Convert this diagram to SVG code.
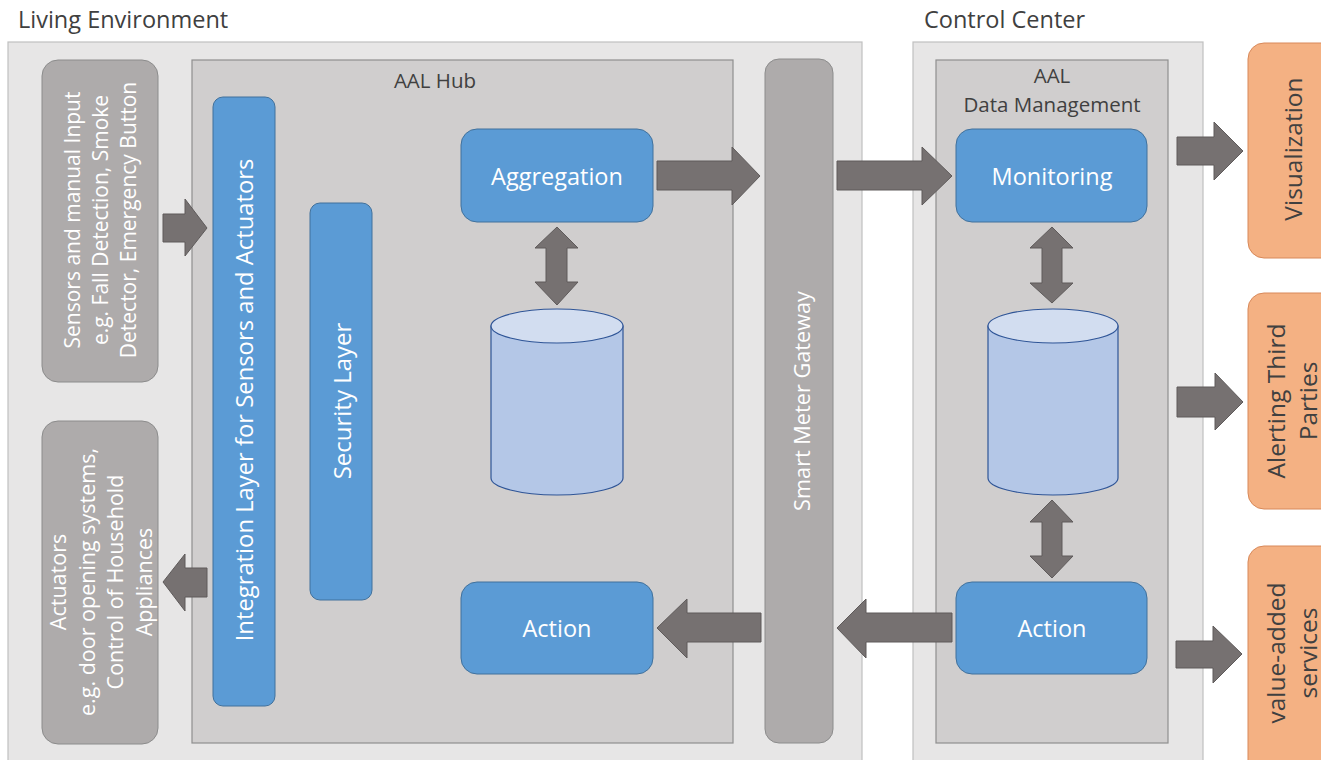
<svg xmlns="http://www.w3.org/2000/svg" width="1321" height="760" viewBox="0 0 1321 760">
<style>
text{font-family:"Open Sans","Noto Sans","Liberation Sans",sans-serif;}
.title{font-size:23.5px;fill:#404040;}
.panel{fill:#e7e6e6;stroke:#c0c0c0;stroke-width:1.2;}
.inner{fill:#d0cece;stroke:#8f8f8f;stroke-width:1.2;}
.gray{fill:#aeabab;stroke:#8c8c8c;stroke-width:1;}
.blue{fill:#5b9bd5;stroke:#41719c;stroke-width:1;}
.orange{fill:#f4b183;stroke:#d8895a;stroke-width:1;}
.cyl{fill:#b4c7e7;stroke:#2f5597;stroke-width:1.2;}
.cyltop{fill:#d2ddf0;stroke:#2f5597;stroke-width:1.2;}
.arrow{fill:#767171;stroke:#5f5b5b;stroke-width:1;}
.wt{fill:#ffffff;text-anchor:middle;dominant-baseline:central;}
.dt{fill:#404040;text-anchor:middle;dominant-baseline:central;}
</style>

<g id="living-environment">
<rect class="panel" x="8" y="42" width="854" height="730"/>
<text class="title" x="18" y="28">Living Environment</text>
</g>
<g id="control-center">
<rect class="panel" x="913" y="42" width="290" height="730"/>
<text class="title" x="924" y="28">Control Center</text>
</g>

<g id="aal-hub">
<rect class="inner" x="192" y="60" width="541" height="683"/>
<text class="dt" x="435" y="80" font-size="20.5">AAL Hub</text>
</g>
<g id="aal-data-management">
<rect class="inner" x="936" y="60" width="232" height="683"/>
<text class="dt" x="1052" y="75" font-size="20.5">AAL</text>
<text class="dt" x="1052" y="104" font-size="20.5">Data Management</text>
</g>

<g id="sensors">
<rect class="gray" x="42" y="60" width="116" height="322" rx="16"/>
<g transform="translate(100,220) rotate(-90)">
<text class="wt" x="0" y="-28" font-size="21">Sensors and manual Input</text>
<text class="wt" x="0" y="0" font-size="21">e.g. Fall Detection, Smoke</text>
<text class="wt" x="0" y="28" font-size="21">Detector, Emergency Button</text>
</g>
</g>
<g id="actuators">
<rect class="gray" x="42" y="421" width="116" height="323" rx="16"/>
<g transform="translate(100,582) rotate(-90)">
<text class="wt" x="0" y="-43" font-size="21.5">Actuators</text>
<text class="wt" x="0" y="-14" font-size="21.5">e.g. door opening systems,</text>
<text class="wt" x="0" y="14" font-size="21.5">Control of Household</text>
<text class="wt" x="0" y="43" font-size="21.5">Appliances</text>
</g>
</g>

<g id="integration-layer">
<rect class="blue" x="213" y="97" width="62" height="609" rx="10"/>
<text class="wt" transform="translate(244,400) rotate(-90)" font-size="23.8">Integration Layer for Sensors and Actuators</text>
</g>
<g id="security-layer">
<rect class="blue" x="310" y="203" width="62" height="397" rx="10"/>
<text class="wt" transform="translate(341,401) rotate(-90)" font-size="24">Security Layer</text>
</g>

<g id="aggregation">
<rect class="blue" x="461" y="129" width="192" height="93" rx="16"/>
<text class="wt" x="557" y="176" font-size="23.5">Aggregation</text>
</g>
<g id="hub-storage">
<path class="cyl" d="M491,326 V478 A66,17 0 0 0 623,478 V326 Z"/>
<ellipse class="cyltop" cx="557" cy="326" rx="66" ry="17"/>
</g>
<g id="hub-action">
<rect class="blue" x="461" y="582" width="192" height="92" rx="16"/>
<text class="wt" x="557" y="628" font-size="23.5">Action</text>
</g>

<g id="smart-meter-gateway">
<rect class="gray" x="765" y="59" width="68" height="684" rx="14"/>
<text class="wt" transform="translate(801,401) rotate(-90)" font-size="21.7">Smart Meter Gateway</text>
</g>

<g id="monitoring">
<rect class="blue" x="956" y="129" width="191" height="93" rx="16"/>
<text class="wt" x="1052" y="176" font-size="23.5">Monitoring</text>
</g>
<g id="cc-storage">
<path class="cyl" d="M988,326 V478 A65,17 0 0 0 1118,478 V326 Z"/>
<ellipse class="cyltop" cx="1053" cy="326" rx="65" ry="17"/>
</g>
<g id="cc-action">
<rect class="blue" x="956" y="582" width="191" height="92" rx="16"/>
<text class="wt" x="1052" y="628" font-size="23.5">Action</text>
</g>

<g id="visualization">
<rect class="orange" x="1248" y="43" width="90" height="215" rx="16"/>
<text class="dt" transform="translate(1292,149) rotate(-90)" font-size="24.5">Visualization</text>
</g>
<g id="alerting">
<rect class="orange" x="1248" y="293" width="90" height="216" rx="16"/>
<g transform="translate(1291,401) rotate(-90)">
<text class="dt" x="0" y="-16" font-size="24.5">Alerting Third</text>
<text class="dt" x="0" y="16" font-size="24.5">Parties</text>
</g>
</g>
<g id="value-added">
<rect class="orange" x="1248" y="546" width="90" height="240" rx="16"/>
<g transform="translate(1291,653) rotate(-90)">
<text class="dt" x="0" y="-16" font-size="24.5">value-added</text>
<text class="dt" x="0" y="16" font-size="24.5">services</text>
</g>
</g>

<g id="connectors">
<path class="arrow" d="M163,214 H185 V199 L207,228 L185,256 V242 H163 Z"/>
<path class="arrow" d="M207,568 H185 V554 L163,582 L185,611 V597 H207 Z"/>
<path class="arrow" d="M657,161 H732 V147 L760,176 L732,205 V190 H657 Z"/>
<path class="arrow" d="M837,161 H922 V147 L952,176 L922,205 V190 H837 Z"/>
<path class="arrow" d="M761,613 H687 V599 L657,628 L687,658 V642 H761 Z"/>
<path class="arrow" d="M952,613 H866 V599 L837,628 L866,658 V642 H952 Z"/>
<path class="arrow" d="M557,227 L578,248 H567 V282 H578 L557,305 L535,282 H546 V248 H535 Z"/>
<path class="arrow" d="M1052,227 L1073,248 H1062 V283 H1073 L1052,303 L1030,283 H1042 V248 H1030 Z"/>
<path class="arrow" d="M1052,500 L1073,522 H1062 V556 H1073 L1052,578 L1030,556 H1042 V522 H1030 Z"/>
<path class="arrow" d="M1177,137 H1214 V122 L1243,151 L1214,180 V165 H1177 Z"/>
<path class="arrow" d="M1177,387 H1215 V373 L1243,402 L1215,430 V417 H1177 Z"/>
<path class="arrow" d="M1176,641 H1213 V626 L1242,654 L1213,683 V668 H1176 Z"/>
</g>
</svg>
